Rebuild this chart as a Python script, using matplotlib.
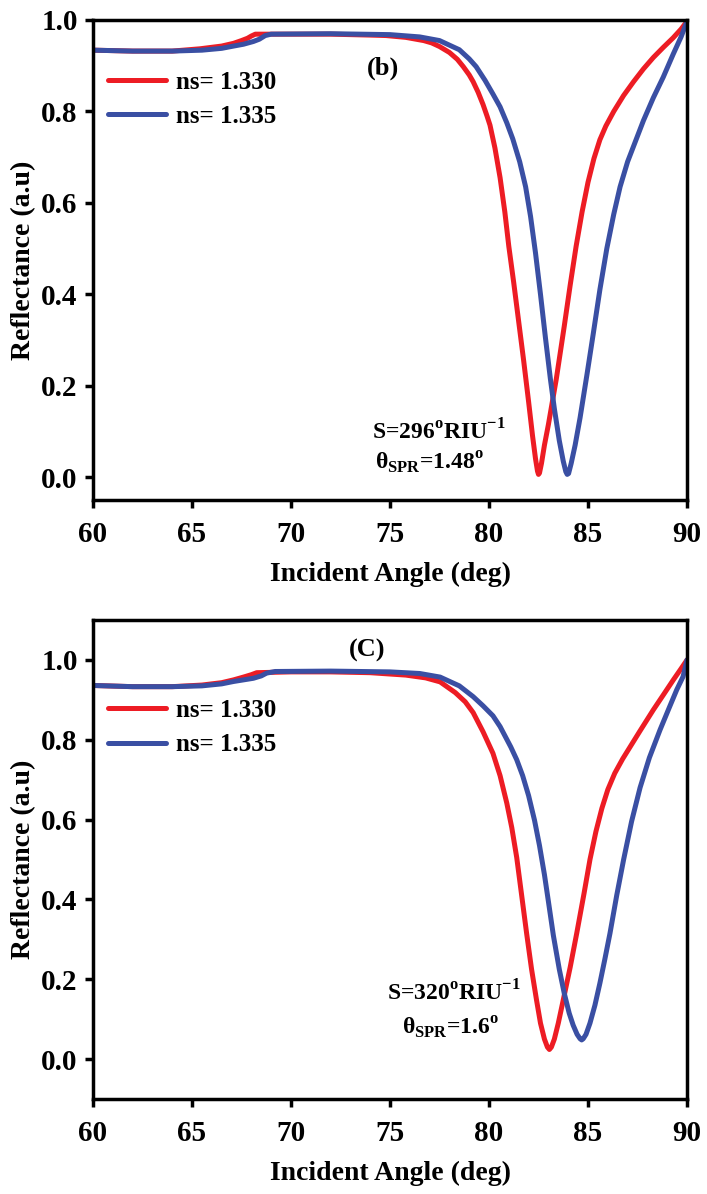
import matplotlib
matplotlib.use("Agg")
import matplotlib.pyplot as plt

# ---------------- data ----------------
# Panel (b)
b_red_x = [60.0, 62.0, 64.0, 65.4, 66.5, 67.1, 67.5, 67.8, 68.0, 68.2, 70.0, 72.0, 74.0, 74.8,
           75.8, 76.7, 77.1, 77.5, 78.0, 78.4, 78.7, 79.0, 79.2, 79.45, 79.7, 79.9, 80.05, 80.3,
           80.56, 80.8, 81.0, 81.25, 81.5, 81.75, 82.0, 82.2, 82.35, 82.45, 82.5, 82.55, 82.65,
           82.8, 83.0, 83.4, 83.8, 84.1, 84.4, 84.7, 85.0, 85.3, 85.6, 85.9, 86.3, 86.8, 87.3,
           87.8, 88.3, 88.8, 89.3, 89.7, 90.0]
b_red_y = [0.934, 0.932, 0.932, 0.937, 0.943, 0.949, 0.955, 0.960, 0.965, 0.969, 0.969, 0.969,
           0.967, 0.966, 0.962, 0.955, 0.950, 0.942, 0.929, 0.914, 0.898, 0.880, 0.865, 0.842,
           0.815, 0.790, 0.770, 0.720, 0.655, 0.580, 0.505, 0.425, 0.340, 0.255, 0.165, 0.090,
           0.040, 0.013, 0.006, 0.009, 0.030, 0.070, 0.115, 0.215, 0.330, 0.420, 0.505, 0.580,
           0.645, 0.697, 0.738, 0.768, 0.800, 0.835, 0.865, 0.893, 0.918, 0.940, 0.961, 0.980,
           0.997]
b_blue_x = [60.0, 62.0, 64.0, 65.5, 66.5, 67.1, 67.6, 68.1, 68.4, 68.7, 69.0, 72.0, 75.0, 76.5,
            77.5, 78.5, 79.0, 79.35, 79.8, 80.2, 80.56, 80.9, 81.2, 81.55, 81.85, 82.1, 82.35,
            82.6, 82.85, 83.1, 83.3, 83.55, 83.75, 83.88, 83.95, 84.02, 84.15, 84.35, 84.6,
            84.95, 85.27, 85.6, 85.95, 86.3, 86.62, 87.0, 87.4, 87.8, 88.3, 88.8, 89.3, 89.7,
            90.0]
b_blue_y = [0.934, 0.932, 0.932, 0.934, 0.938, 0.943, 0.947, 0.953, 0.958, 0.966, 0.969, 0.970,
            0.968, 0.963, 0.955, 0.935, 0.915, 0.898, 0.868, 0.838, 0.810, 0.775, 0.740, 0.690,
            0.635, 0.570, 0.490, 0.400, 0.305, 0.215, 0.150, 0.080, 0.035, 0.012, 0.006, 0.008,
            0.030, 0.070, 0.130, 0.225, 0.315, 0.410, 0.500, 0.575, 0.635, 0.690, 0.735, 0.780,
            0.830, 0.875, 0.925, 0.963, 0.997]

# Panel (C)
c_red_x = [60.0, 62.0, 64.0, 65.5, 66.5, 67.1, 67.6, 68.0, 68.27, 70.0, 72.0, 74.0, 75.8, 76.8,
           77.53, 78.3, 78.8, 79.2, 79.7, 80.2, 80.56, 80.9, 81.15, 81.4, 81.65, 81.9, 82.15,
           82.4, 82.6, 82.8, 82.95, 83.05, 83.15, 83.3, 83.5, 83.75, 84.1, 84.43, 84.8, 85.1,
           85.4, 85.7, 86.0, 86.35, 86.75, 87.2, 87.6, 88.3, 88.8, 89.31, 89.7, 90.0]
c_red_y = [0.936, 0.933, 0.933, 0.937, 0.943, 0.950, 0.957, 0.963, 0.968, 0.970, 0.970, 0.968,
           0.962, 0.955, 0.945, 0.918, 0.895, 0.868, 0.820, 0.766, 0.710, 0.641, 0.580, 0.505,
           0.410, 0.315, 0.225, 0.148, 0.090, 0.050, 0.030, 0.024, 0.030, 0.050, 0.090, 0.148,
           0.230, 0.315, 0.415, 0.500, 0.570, 0.628, 0.675, 0.716, 0.752, 0.788, 0.820, 0.875,
           0.912, 0.950, 0.978, 1.000]
c_blue_x = [60.0, 62.0, 64.0, 65.5, 66.5, 67.1, 67.6, 68.1, 68.5, 68.77, 69.2, 72.0, 75.0, 76.5,
            77.53, 78.5, 79.2, 79.7, 80.2, 80.56, 81.1, 81.4, 81.7, 82.0, 82.3, 82.55, 82.8,
            83.0, 83.25, 83.55, 83.8, 84.05, 84.25, 84.45, 84.6, 84.68, 84.76, 84.9, 85.1, 85.35,
            85.6, 85.85, 86.11, 86.45, 86.8, 87.2, 87.63, 88.1, 88.64, 89.1, 89.48, 89.8, 90.0]
c_blue_y = [0.936, 0.933, 0.933, 0.935, 0.940, 0.946, 0.950, 0.954, 0.960, 0.967, 0.971, 0.972,
            0.970, 0.966, 0.957, 0.935, 0.908, 0.885, 0.860, 0.833, 0.782, 0.750, 0.710, 0.660,
            0.598, 0.535, 0.462, 0.395, 0.310, 0.225, 0.165, 0.115, 0.085, 0.062, 0.051, 0.048,
            0.051, 0.062, 0.090, 0.135, 0.190, 0.250, 0.315, 0.410, 0.500, 0.595, 0.680, 0.755,
            0.825, 0.880, 0.925, 0.958, 1.000]

legend_labels = ["ns= 1.330", "ns= 1.335"]
panel_labels = ["(b)", "(C)"]
annot_S = ["S=296$^{\\mathregular{o}}$RIU$^{\\mathregular{-1}}$",
           "S=320$^{\\mathregular{o}}$RIU$^{\\mathregular{-1}}$"]
annot_theta = ["θ$_{\\mathregular{SPR}}$=1.48$^{\\mathregular{o}}$",
               "θ$_{\\mathregular{SPR}}$=1.6$^{\\mathregular{o}}$"]
x_ticks = [60, 65, 70, 75, 80, 85, 90]
y_ticks = [0.0, 0.2, 0.4, 0.6, 0.8, 1.0]

# ---------------- style ----------------
plt.rcParams['font.family'] = ['Liberation Serif', 'DejaVu Serif']
plt.rcParams['font.weight'] = 'bold'
RED = '#ED1C24'
BLUE = '#3A4FA3'

W, H = 707, 1194
fig = plt.figure(figsize=(W / 100, H / 100), dpi=100)

left = 93 / W
width = 594 / W
ax_b = fig.add_axes([left, 1 - 500 / H, width, 480 / H])
ax_c = fig.add_axes([left, 1 - 1099 / H, width, 479 / H])

panels = [
    (ax_b, b_red_x, b_red_y, b_blue_x, b_blue_y, (-0.05, 1.0)),
    (ax_c, c_red_x, c_red_y, c_blue_x, c_blue_y, (-0.1, 1.1)),
]

for i, (ax, rx, ry, bx, by, ylim) in enumerate(panels):
    ax.plot(rx, ry, color=RED, lw=3.6, label=legend_labels[0],
            solid_capstyle='round', solid_joinstyle='round')
    ax.plot(bx, by, color=BLUE, lw=3.6, label=legend_labels[1],
            solid_capstyle='round', solid_joinstyle='round')
    ax.set_xlim(60, 90)
    ax.set_ylim(*ylim)
    ax.set_xticks(x_ticks)
    ax.set_yticks(y_ticks)
    ax.set_yticklabels([f"{v:.1f}" for v in y_ticks])
    ax.tick_params(axis='both', direction='out', length=6, width=2.5, labelsize=21, pad=5)
    ax.tick_params(axis='x', pad=9)
    for s in ax.spines.values():
        s.set_linewidth(2.5)
    ax.set_xlabel("Incident Angle (deg)", fontsize=20, fontweight='bold', labelpad=10)
    ax.set_ylabel("Reflectance (a.u)", fontsize=20, fontweight='bold', labelpad=4)
    for lab in ax.get_xticklabels() + ax.get_yticklabels():
        lab.set_fontweight('bold')
    leg = ax.legend(loc='upper left', frameon=False, fontsize=18, handlelength=2.3,
                    handletextpad=0.4, labelspacing=0.45, borderaxespad=0.0, borderpad=0.2,
                    bbox_to_anchor=(0.017, 0.905 if i == 0 else 0.845))
    for t in leg.get_texts():
        t.set_fontweight('bold')

ax_b.text(383 / W, 1 - 68 / H, panel_labels[0], transform=fig.transFigure, ha='center',
          va='center', fontsize=19, fontweight='bold')
ax_c.text(367 / W, 1 - 650 / H, panel_labels[1], transform=fig.transFigure, ha='center',
          va='center', fontsize=19, fontweight='bold')

ax_b.text(372 / W, 1 - 432 / H, annot_S[0], transform=fig.transFigure, ha='left', va='center',
          fontsize=17, fontweight='bold')
ax_b.text(375 / W, 1 - 463 / H, annot_theta[0], transform=fig.transFigure, ha='left',
          va='center', fontsize=17, fontweight='bold')
ax_c.text(387 / W, 1 - 993 / H, annot_S[1], transform=fig.transFigure, ha='left', va='center',
          fontsize=17, fontweight='bold')
ax_c.text(402 / W, 1 - 1028 / H, annot_theta[1], transform=fig.transFigure, ha='left',
          va='center', fontsize=17, fontweight='bold')

fig.savefig("out.png", dpi=100)
